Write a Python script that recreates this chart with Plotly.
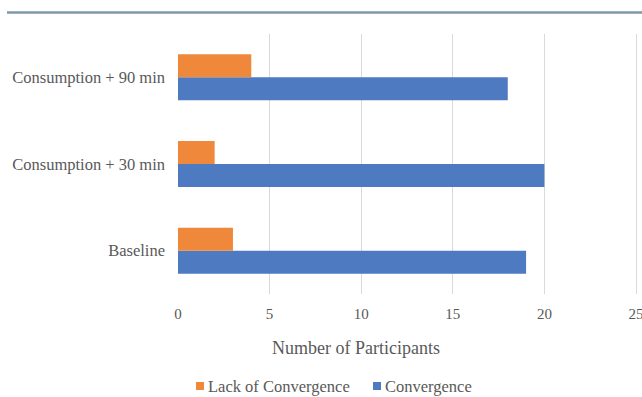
import plotly.graph_objects as go

categories = ["Baseline", "Consumption + 30 min", "Consumption + 90 min"]
convergence = [19, 20, 18]
lack_of_convergence = [3, 2, 4]
x_ticks = [0, 5, 10, 15, 20, 25]

ORANGE = "#F0883B"
BLUE = "#4E7AC2"
TEXT = "#595959"
FONT = "Liberation Serif"

# plot area in pixels
L, R, T, B = 178, 4, 34, 103
W, H = 642, 397
PW, PH = W - L - R, H - T - B
X_MAX = 25 * PW / (636 - L)  # 25 lands at x=636


def px_x(x):
    return (x - L) / PW


def px_y(y):
    return (H - B - y) / PH


fig = go.Figure()
fig.add_trace(go.Bar(
    y=categories, x=convergence, orientation="h", name="Convergence",
    marker=dict(color=BLUE, line=dict(width=0)), showlegend=False,
))
fig.add_trace(go.Bar(
    y=categories, x=lack_of_convergence, orientation="h", name="Lack of Convergence",
    marker=dict(color=ORANGE, line=dict(width=0)), showlegend=False,
))

# legend drawn as small swatches with labels
legend_items = [("Lack of Convergence", ORANGE, 196), ("Convergence", BLUE, 373)]
shapes = [dict(
    type="line", xref="paper", yref="paper",
    x0=px_x(7), x1=px_x(W), y0=px_y(12.5), y1=px_y(12.5),
    line=dict(color="#7F99AA", width=2.5),
)]
annotations = [dict(
    text="Number of Participants", xref="paper", yref="paper",
    x=px_x(356), y=px_y(348), xanchor="center", yanchor="middle",
    showarrow=False, font=dict(family=FONT, size=18, color=TEXT),
)]
for label, color, x0 in legend_items:
    shapes.append(dict(
        type="rect", xref="paper", yref="paper",
        x0=px_x(x0), x1=px_x(x0 + 8), y0=px_y(382), y1=px_y(390),
        fillcolor=color, line=dict(width=0),
    ))
    annotations.append(dict(
        text=label, xref="paper", yref="paper",
        x=px_x(x0 + 10), y=px_y(386), xanchor="left", yanchor="middle",
        showarrow=False, font=dict(family=FONT, size=16.5, color=TEXT),
    ))

fig.update_layout(
    width=W, height=H,
    margin=dict(l=L, r=R, t=T, b=B, autoexpand=False),
    paper_bgcolor="white", plot_bgcolor="white",
    barmode="group", bargap=0.47, bargroupgap=0,
    font=dict(family=FONT, size=16.5, color=TEXT),
    xaxis=dict(
        range=[0, X_MAX], tickvals=x_ticks, showgrid=True, gridcolor="#D9D9D9",
        gridwidth=1, zeroline=False, showline=False, ticks="", automargin=False,
        ticklabelstandoff=9, ticklabeloverflow="allow",
        tickfont=dict(family=FONT, size=15, color=TEXT),
    ),
    yaxis=dict(
        showgrid=False, zeroline=False, showline=False, ticks="", automargin=False,
        ticklabelstandoff=12, tickfont=dict(family=FONT, size=16.5, color=TEXT),
    ),
    showlegend=False,
    annotations=annotations,
    shapes=shapes,
)

fig.write_html("out.html")
